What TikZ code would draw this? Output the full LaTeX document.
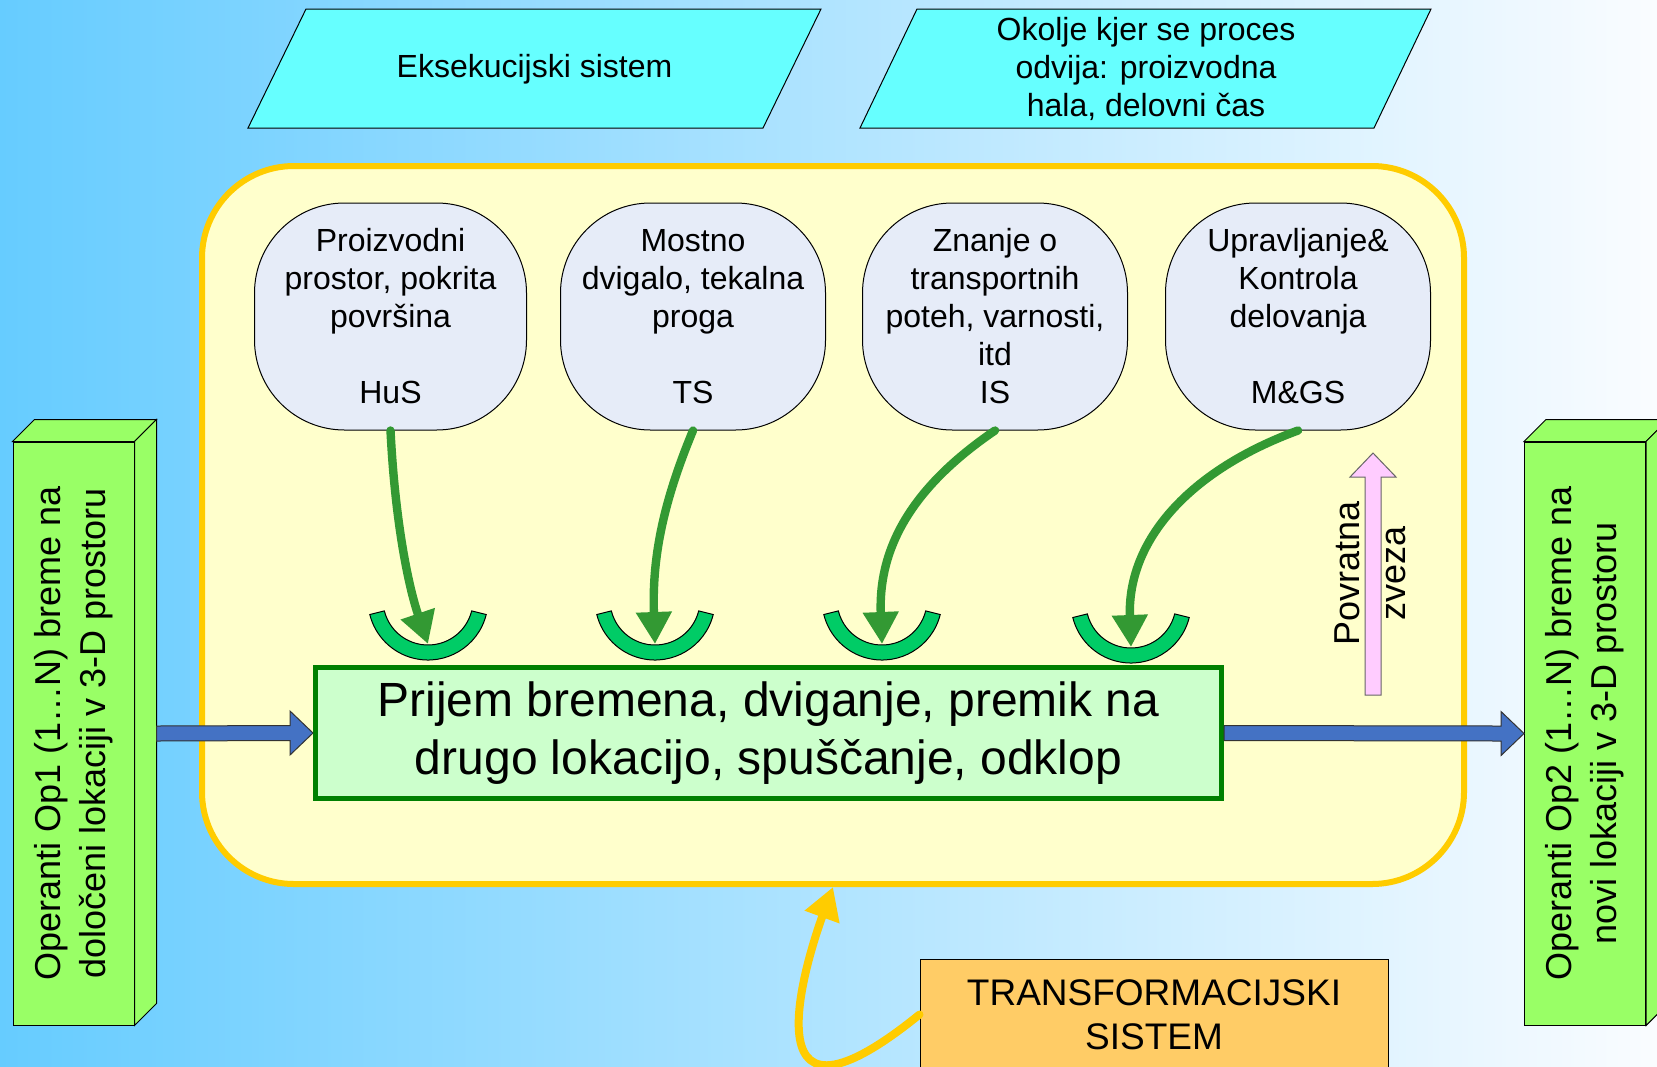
\documentclass[tikz,border=0pt]{standalone}
\usepackage{fontspec}
\setmainfont{Liberation Sans}
\usetikzlibrary{arrows.meta,calc}
\definecolor{bgleft}{RGB}{102,204,255}
\definecolor{bgright}{RGB}{250,252,255}
\definecolor{paracyan}{RGB}{102,255,255}
\definecolor{envfill}{RGB}{255,255,204}
\definecolor{envline}{RGB}{255,204,0}
\definecolor{bubblefill}{RGB}{230,236,248}
\definecolor{cupgreen}{RGB}{0,204,102}
\definecolor{feedgreen}{RGB}{51,153,51}
\definecolor{taskfill}{RGB}{204,255,204}
\definecolor{taskline}{RGB}{0,128,0}
\definecolor{opgreen}{RGB}{153,255,102}
\definecolor{flowblue}{RGB}{68,114,196}
\definecolor{transfill}{RGB}{255,204,102}
\definecolor{pinkfill}{RGB}{255,204,255}
\tikzstyle{slanted}=[draw, line width=0.5pt, fill=paracyan]
\tikzstyle{slantedtext}=[align=center, font=\fontsize{16}{19}\selectfont]
\tikzstyle{envbox}=[draw=envline, line width=3pt, fill=envfill, rounded corners=46pt, minimum width=631pt, minimum height=359pt]
\tikzstyle{bubble}=[draw, line width=0.5pt, fill=bubblefill, rounded corners=45pt, minimum width=132.5pt, minimum height=113.5pt, align=center, inner sep=0pt, font=\fontsize{16}{19}\selectfont]
\tikzstyle{cup}=[draw, line width=0.5pt, fill=cupgreen]
\tikzstyle{feed}=[draw=feedgreen, line width=4.2pt, line cap=round, -{Triangle[length=16pt,width=17pt]}]
\tikzstyle{taskbox}=[draw=taskline, line width=2.5pt, fill=taskfill, minimum width=453pt, minimum height=65.5pt, align=center, font=\fontsize{24}{29}\selectfont]
\tikzstyle{opbox}=[draw, line width=0.5pt, fill=opgreen, minimum width=60.5pt, minimum height=291.5pt, inner sep=0pt]
\tikzstyle{oplabel}=[rotate=90, align=center, font=\fontsize{18}{22.5}\selectfont]
\tikzstyle{flow}=[draw=black!80, line width=0.5pt, fill=flowblue, line join=miter]
\tikzstyle{transbox}=[draw, line width=0.5pt, fill=transfill, minimum width=234pt, minimum height=55.5pt, align=center, font=\fontsize{18.5}{22}\selectfont]
\tikzstyle{returnline}=[draw=envline, line width=4pt, line cap=round, -{Triangle[length=16pt,width=17.5pt]}]
\begin{document}
\begin{tikzpicture}[x=0.5pt, y=-0.5pt]
\useasboundingbox (0, 0) rectangle (1657, 1066);
\clip (0, 0) rectangle (1657, 1066);
\shade[left color=bgleft, right color=bgright] (0, 0) rectangle (1657, 1066);

\draw[slanted] (306, 9) -- (821, 9) -- (763, 128) -- (248, 128) -- cycle;
\node[slantedtext] at (534.5, 69) (exe) {Eksekucijski sistem};
\draw[slanted] (917, 9) -- (1431, 9) -- (1374, 128) -- (860, 128) -- cycle;
\node[slantedtext] at (1146, 69) (okolje) {Okolje kjer se proces\\odvija: proizvodna\\hala, delovni čas};

\node[envbox] at (833, 525) (env) {};

\node[bubble, minimum width=136pt] at (390.5, 316.5) (hus) {Proizvodni\\prostor, pokrita\\površina\\[19pt]HuS};
\node[bubble] at (693, 316.5) (ts) {Mostno\\dvigalo, tekalna\\proga\\[19pt]TS};
\node[bubble] at (995, 316.5) (is) {Znanje o\\transportnih\\poteh, varnosti,\\itd\\IS};
\node[bubble] at (1298, 316.5) (mgs) {Upravljanje\&\\Kontrola\\delovanja\\[19pt]M\&GS};

\foreach \name/\x/\y in {cupa/428/600, cupb/655/600, cupc/882/600, cupd/1131/603} {
  \coordinate (\name) at (\x, \y);
  \draw[cup] ([shift={(14:60)}]\name) arc[start angle=14, end angle=166, radius=60] -- ([shift={(166:45)}]\name) arc[start angle=166, end angle=14, radius=45] -- cycle;
}

\draw[feed] (hus.south) .. controls (395, 520) and (408, 585) .. ([yshift=-22pt]cupa);
\draw[feed] (ts.south) .. controls (662, 505) and (652, 560) .. ([yshift=-22pt]cupb);
\draw[feed] (is.south) .. controls (915, 485) and (878, 545) .. ([yshift=-22pt]cupc);
\draw[feed] (mgs.south) .. controls (1190, 470) and (1127, 540) .. ([yshift=-22pt]cupd);

\node[taskbox] at (768.5, 733) (task) {Prijem bremena, dviganje, premik na\\drugo lokacijo, spuščanje, odklop};

\node[opbox] at (73.5, 733.5) (op1) {};
\draw[opbox] (op1.north west) -- ++(22, -22) -- ($(op1.north east) + (22, -22)$) -- (op1.north east) -- cycle;
\draw[opbox] (op1.north east) -- ++(22, -22) -- ($(op1.south east) + (22, -22)$) -- (op1.south east) -- cycle;
\node[oplabel] at (op1) (op1text) {Operanti Op1 (1…N) breme na\\določeni lokaciji v 3-D prostoru};

\node[opbox] at (1585, 733.5) (op2) {};
\draw[opbox] (op2.north west) -- ++(22, -22) -- ($(op2.north east) + (22, -22)$) -- (op2.north east) -- cycle;
\draw[opbox] (op2.north east) -- ++(22, -22) -- ($(op2.south east) + (22, -22)$) -- (op2.south east) -- cycle;
\node[oplabel] at (op2) (op2text) {Operanti Op2 (1…N) breme na\\novi lokaciji v 3-D prostoru};

\draw[flow] let \p1 = ($(op1.east) + (22, 0)$), \p2 = (task.west) in (\x1, \y1 + 3.75pt) -- (\x2 - 11.5pt, \y2 + 3.75pt) -- (\x2 - 11.5pt, \y2 + 11pt) -- (\x2, \y2) -- (\x2 - 11.5pt, \y2 - 11pt) -- (\x2 - 11.5pt, \y2 - 3.75pt) -- (\x1, \y1 - 3.75pt) -- cycle;
\draw[flow] let \p1 = (task.east), \p2 = (op2.west) in (\x1, \y1 + 3.75pt) -- (\x2 - 11.5pt, \y2 + 3.75pt) -- (\x2 - 11.5pt, \y2 + 11pt) -- (\x2, \y2) -- (\x2 - 11.5pt, \y2 - 11pt) -- (\x2 - 11.5pt, \y2 - 3.75pt) -- (\x1, \y1 - 3.75pt) -- cycle;

\draw[draw=black!60, line width=0.5pt, fill=pinkfill] (1365, 695) -- (1365, 477) -- (1350, 477) -- (1373, 453) -- (1396, 477) -- (1381, 477) -- (1381, 695) -- cycle;
\node[align=center, rotate=90, font=\fontsize{18}{23}\selectfont] at (1370, 573) (povratna) {Povratna\\zveza};

\node[transbox] at (1154, 1014.5) (trans) {TRANSFORMACIJSKI\\SISTEM};
\draw[returnline] (trans.west) .. controls (740, 1160) and (810, 950) .. (env.south);
\end{tikzpicture}
\end{document}
